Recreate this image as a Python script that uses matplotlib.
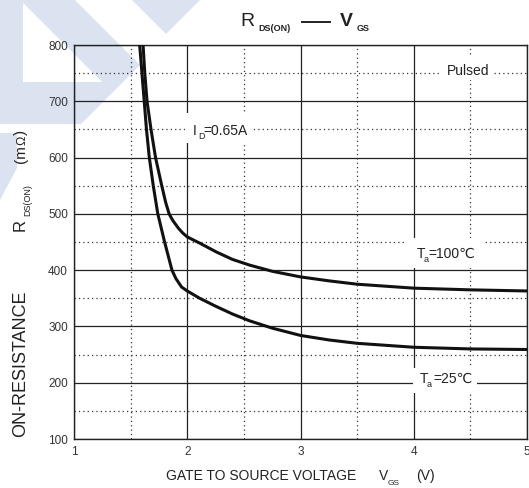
import matplotlib
matplotlib.use("Agg")
import matplotlib.pyplot as plt
from matplotlib.patches import Polygon, Rectangle
from matplotlib.lines import Line2D
from matplotlib.ticker import MultipleLocator

# ---------------- data ----------------
vgs_100 = [1.61, 1.625, 1.645, 1.68, 1.72, 1.775, 1.81, 1.84, 1.87, 1.92,
           1.96, 2.0, 2.11, 2.26, 2.4, 2.55, 2.75, 3.0, 3.25, 3.5, 4.0,
           4.5, 5.0]
rds_100 = [800, 750, 700, 650, 600, 550, 520, 500, 489, 475,
           466, 459, 448, 432, 419, 409, 398, 388, 381, 375, 368,
           365, 363]

vgs_25 = [1.58, 1.60, 1.62, 1.64, 1.665, 1.70, 1.74, 1.80, 1.865, 1.90,
          1.95, 2.0, 2.11, 2.25, 2.4, 2.55, 2.75, 3.0, 3.25, 3.5, 4.0,
          4.5, 5.0]
rds_25 = [800, 750, 700, 650, 600, 550, 500, 450, 400, 385,
          370, 363, 350, 336, 322, 310, 297, 284, 276, 270, 263,
          260, 259]

x_ticks = [1, 2, 3, 4, 5]
x_tick_labels = ["1", "2", "3", "4", "5"]
y_ticks = [100, 200, 300, 400, 500, 600, 700, 800]
y_tick_labels = ["100", "200", "300", "400", "500", "600", "700", "800"]

# ---------------- figure ----------------
W, H = 529, 488
plt.rcParams["font.family"] = ["Liberation Sans", "DejaVu Sans"]
fig = plt.figure(figsize=(W / 100, H / 100), dpi=100)
fig.patch.set_facecolor("white")

def fx(x):
    return x / W

def fy(y):
    return 1 - y / H

TXT = "#222222"

# pale blue watermark (pixel coordinates, y downward)
WM = "#dbe3f1"
wm_polys = [
    [(0, 0), (75, 0), (140, 65), (81, 124), (0, 124)],
    [(132, 0), (200, 0), (166, 34)],
    [(0, 133), (17, 133), (17, 168), (0, 200)],
]
for poly in wm_polys:
    fig.add_artist(Polygon([(fx(a), fy(b)) for a, b in poly], closed=True,
                           transform=fig.transFigure, facecolor=WM,
                           edgecolor="none", zorder=-2))
fig.add_artist(Polygon([(fx(a), fy(b)) for a, b in [(23, 3), (23, 82), (102, 82)]],
                       closed=True, transform=fig.transFigure, facecolor="white",
                       edgecolor="none", zorder=-1))

# axes: x 74..527 px, y 45..439 px
ax = fig.add_axes([fx(74), fy(439), (527 - 74) / W, (439 - 45) / H])
ax.set_facecolor("none")
ax.set_xlim(1, 5)
ax.set_ylim(100, 800)
ax.set_xticks(x_ticks)
ax.set_xticklabels(x_tick_labels)
ax.set_yticks(y_ticks)
ax.set_yticklabels(y_tick_labels)
ax.xaxis.set_minor_locator(MultipleLocator(0.5))
ax.yaxis.set_minor_locator(MultipleLocator(50))
ax.tick_params(which="both", length=0)
ax.tick_params(axis="x", pad=5, labelsize=8.5, labelcolor="#333333")
ax.tick_params(axis="y", pad=4.3, labelsize=8.5, labelcolor="#333333")
ax.grid(which="major", color="#222222", linewidth=0.9, linestyle="-")
ax.grid(which="minor", color="#333333", linewidth=0.9, linestyle=(0, (1, 2.5)))
ax.set_axisbelow(True)
for s in ax.spines.values():
    s.set_color("#222222")
    s.set_linewidth(1.0)

ax.plot(vgs_100, rds_100, color="#111111", linewidth=2.2,
        solid_joinstyle="round", solid_capstyle="round", zorder=3)
ax.plot(vgs_25, rds_25, color="#111111", linewidth=2.2,
        solid_joinstyle="round", solid_capstyle="round", zorder=3)

# ---------------- text helpers ----------------
def T(x, y, s, size, weight="normal", rot=0, color=TXT):
    """x, y in pixels (y downward); anchored at start of baseline."""
    fig.text(fx(x), fy(y), s, fontsize=size, fontweight=weight, color=color,
             ha="left", va="baseline", rotation=rot, rotation_mode="anchor",
             zorder=5)

def box(x0, y0, x1, y1):
    fig.add_artist(Rectangle((fx(x0), fy(y1)), (x1 - x0) / W, (y1 - y0) / H,
                             transform=fig.transFigure, facecolor="white",
                             edgecolor="none", zorder=2))

# title  R_DS(ON) —— V_GS
T(240, 26, "R", 14)
T(258, 31, "DS(ON)", 6.5, "bold")
fig.add_artist(Line2D([fx(302), fx(330)], [fy(22), fy(22)], color=TXT,
                      linewidth=1.4, transform=fig.transFigure))
T(340, 26, "V", 14, "bold")
T(357, 31, "GS", 6.5, "bold")

# x label
T(166, 480, "GATE TO SOURCE VOLTAGE", 10)
T(379, 480, "V", 10)
T(388, 485, "GS", 6)
T(416, 480, "(V)", 10)

# y label (rotated)
T(25, 437, "ON-RESISTANCE", 13, rot=90)
T(25, 231, "R", 12, rot=90)
T(30, 216, "DS(ON)", 6.5, rot=90)
T(25, 163, "(m", 11, rot=90)
T(25, 145, "Ω", 9, rot=90)
T(25, 135, ")", 11, rot=90)

# annotations with white backgrounds
box(185, 113, 253, 143)
T(193, 135, "I", 10)
T(198, 139, "D", 6.5)
T(203, 135, "=0.65A", 10)

box(442, 57, 492, 80)
T(447, 75, "Pulsed", 10)

box(407, 238, 483, 268)
T(417, 258, "T", 10)
T(424, 262, "a", 6.5)
T(428, 258, "=100℃", 10)

box(413, 368, 477, 393)
T(420, 383, "T", 10)
T(427, 387, "a", 6.5)
T(433, 383, "=25℃", 10)

fig.savefig("out.png", dpi=100, facecolor="white")
